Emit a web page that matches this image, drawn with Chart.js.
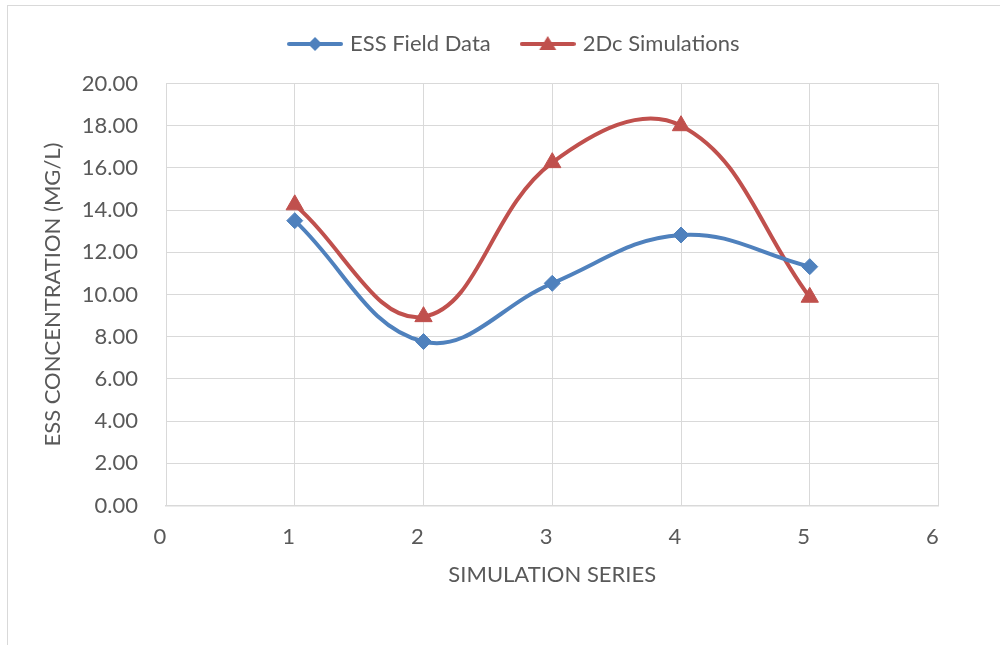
<!DOCTYPE html>
<html>
<head>
<meta charset="utf-8">
<script src="https://cdn.jsdelivr.net/npm/chart.js@4/dist/chart.umd.min.js"></script>
<style>
  body { margin: 0; background: #fff; }
  #wrap { position: absolute; left: 0; top: 0; width: 1000px; height: 645px; }
  #frame { position: absolute; left: 7px; top: 5px; width: 1000px; height: 700px;
           border-left: 1.5px solid #d9d9d9; border-top: 1.5px solid #d9d9d9; }
</style>
</head>
<body>
<div id="frame"></div>
<div id="wrap"><canvas id="myChart"></canvas></div>
<script>
'use strict';

// data
const seriesNo = [1, 2, 3, 4, 5];
const essField = [13.5, 7.77, 10.53, 12.82, 11.32];
const sim2Dc = [14.25, 8.95, 16.25, 18.0, 9.87];
const seriesNames = ['ESS Field Data', '2Dc Simulations'];
const xTickMin = 0, xTickMax = 6, xTickStep = 1;
const yTickMin = 0, yTickMax = 20, yTickStep = 2;

const blue = '#4f81bd';
const red = '#c0504d';
const grey = '#595959';
const gridGrey = '#d9d9d9';

function toPoints(ys) {
    return seriesNo.map((x, i) => ({ x: x, y: ys[i] }));
}

// little line+marker pictures for the legend
function legendIcon(color, shape) {
    const c = document.createElement('canvas');
    c.width = 56; c.height = 20;
    const g = c.getContext('2d');
    g.strokeStyle = color;
    g.lineWidth = 4;
    g.lineCap = 'round';
    g.beginPath(); g.moveTo(2, 10); g.lineTo(54, 10); g.stroke();
    g.fillStyle = color;
    g.beginPath();
    if (shape === 'diamond') {
        g.moveTo(28, 3); g.lineTo(35, 10); g.lineTo(28, 17); g.lineTo(21, 10);
    } else {
        g.moveTo(28, 2); g.lineTo(36.5, 16); g.lineTo(19.5, 16);
    }
    g.closePath(); g.fill();
    return c;
}
const icons = [legendIcon(blue, 'diamond'), legendIcon(red, 'triangle')];

// legend takes the whole band above the plot, shifted to sit where excel put it
const legendFix = {
    id: 'legendFix',
    beforeLayout(chart) {
        const lg = chart.legend;
        if (lg && !lg._fixed) {
            const fit = lg.fit;
            lg.fit = function () { fit.call(this); this.height = 83.5; };
            lg._fixed = true;
        }
    },
    afterLayout(chart) {
        const lg = chart.legend;
        if (lg) { lg.left += 46; lg.right += 46; }
    }
};

Chart.defaults.font.family = 'Lato, "Open Sans", sans-serif';
Chart.defaults.font.size = 22;
Chart.defaults.color = grey;

const ctx = document.getElementById('myChart').getContext('2d');
const chart = new Chart(ctx, {
    type: 'scatter',
    data: {
        datasets: [{
            label: seriesNames[0],
            data: toPoints(essField),
            showLine: true,
            borderColor: blue,
            backgroundColor: blue,
            borderWidth: 4,
            tension: 0.4,
            pointStyle: 'rectRot',
            pointRadius: 8,
            pointHoverRadius: 8,
            pointBorderWidth: 1
        }, {
            label: seriesNames[1],
            data: toPoints(sim2Dc),
            showLine: true,
            borderColor: red,
            backgroundColor: red,
            borderWidth: 4,
            tension: 0.4,
            pointStyle: 'triangle',
            pointRadius: 10,
            pointHoverRadius: 10,
            pointBorderWidth: 1
        }]
    },
    options: {
        responsive: true,
        maintainAspectRatio: false,
        animation: false,
        layout: { padding: { left: 0, right: 61.5, top: 0, bottom: 0 } },
        plugins: {
            tooltip: { enabled: false },
            legend: {
                position: 'top',
                labels: {
                    usePointStyle: true,
                    pointStyleWidth: 48,
                    padding: 33,
                    color: grey,
                    font: { size: 22 },
                    generateLabels(chart) {
                        const items = Chart.defaults.plugins.legend.labels.generateLabels(chart);
                        items.forEach((it, i) => { it.pointStyle = icons[i]; });
                        return items;
                    }
                }
            }
        },
        scales: {
            x: {
                type: 'linear',
                min: xTickMin,
                max: xTickMax,
                afterFit(scale) { scale.height = 139.5; },
                ticks: { stepSize: xTickStep, padding: 18, labelOffset: -6, color: grey },
                grid: { color: gridGrey, lineWidth: 1, drawTicks: false },
                border: { color: gridGrey, width: 1.5 },
                title: {
                    display: true,
                    text: 'SIMULATION SERIES',
                    color: grey,
                    font: { size: 22 },
                    padding: { top: 0, bottom: 57 }
                }
            },
            y: {
                type: 'linear',
                min: yTickMin,
                max: yTickMax,
                afterFit(scale) { scale.width = 166; },
                ticks: {
                    stepSize: yTickStep,
                    padding: 28,
                    color: grey,
                    callback: v => Number(v).toFixed(2)
                },
                grid: { color: gridGrey, lineWidth: 1, drawTicks: false },
                border: { color: gridGrey, width: 1 },
                title: {
                    display: true,
                    text: 'ESS CONCENTRATION (MG/L)',
                    color: grey,
                    font: { size: 22 },
                    padding: { top: 40, bottom: 0 }
                }
            }
        }
    },
    plugins: [legendFix]
});
</script>
</body>
</html>
